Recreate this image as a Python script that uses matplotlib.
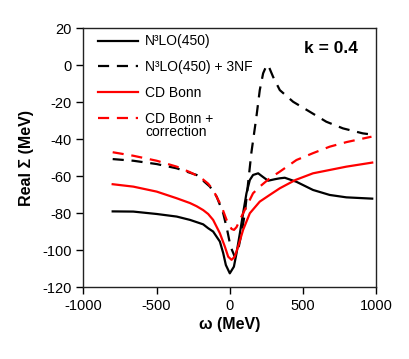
import numpy as np
import matplotlib.pyplot as plt

plt.rcParams['font.family'] = ['Liberation Sans', 'DejaVu Sans']
plt.rcParams['axes.unicode_minus'] = False

# Data (omega in MeV, Real Sigma in MeV)
w_n3lo = [-800, -659, -499, -362, -271, -226, -181, -147, -113, -67, -44,
          -26, 1, 29, 47, 70, 92, 115, 138, 160, 195, 225, 263, 309, 343,
          377, 457, 570, 684, 798, 975]
s_n3lo = [-79.0, -79.1, -80.4, -81.8, -83.6, -84.8, -86.0, -88.1, -89.9,
          -95.3, -101.6, -108.0, -112.5, -108.9, -101.6, -90.8, -80.0, -69.2,
          -62.0, -59.3, -58.4, -60.2, -62.4, -61.6, -61.1, -60.8, -63.0,
          -67.4, -70.1, -71.4, -72.1]

w_3nf = [-800, -659, -499, -362, -226, -135, -89, -44, -17, 6, 35, 58, 81,
         104, 126, 149, 165, 183, 206, 229, 250, 263, 297, 343, 434, 548,
         661, 775, 911, 970]
s_3nf = [-50.7, -51.6, -53.4, -55.7, -59.3, -65.6, -71.0, -80.0, -89.0,
         -98.0, -103.5, -99.8, -90.8, -80.0, -63.8, -47.0, -38.0, -27.8,
         -13.4, -4.3, -0.5, 0.2, -6.2, -13.4, -19.7, -25.1, -30.5, -34.1,
         -36.8, -37.4]

w_cdb = [-800, -659, -499, -362, -271, -226, -181, -147, -113, -67, -33,
         -10, 13, 35, 58, 92, 138, 206, 274, 343, 450, 570, 798, 975]
s_cdb = [-64.3, -65.6, -68.3, -71.9, -74.5, -76.2, -78.3, -80.4, -83.6,
         -90.8, -98.0, -103.5, -105.2, -103.5, -98.0, -89.0, -80.0, -73.7,
         -70.1, -66.5, -62.0, -58.4, -54.8, -52.6]

w_cdbc = [-800, -659, -499, -362, -271, -226, -181, -147, -113, -55, -21,
          13, 30, 47, 81, 115, 160, 206, 274, 343, 457, 570, 684, 800, 970]
s_cdbc = [-47.0, -48.9, -51.6, -54.8, -57.8, -59.6, -61.8, -64.0, -67.4,
          -76.4, -83.6, -88.5, -89.0, -87.5, -81.8, -76.4, -69.2, -65.6,
          -61.1, -57.5, -51.2, -47.5, -44.0, -41.5, -38.6]

fig = plt.figure(figsize=(4.09, 3.59), dpi=100)
ax = fig.add_axes([0.204, 0.2, 0.715, 0.721])

dash = (0, (5, 3.5))
ax.plot(w_n3lo, s_n3lo, color='black', lw=1.6, label='N\u00b3LO(450)')
ax.plot(w_3nf, s_3nf, color='black', lw=1.6, ls=dash,
        label='N\u00b3LO(450) + 3NF')
ax.plot(w_cdb, s_cdb, color='red', lw=1.6, label='CD Bonn')
ax.plot(w_cdbc, s_cdbc, color='red', lw=1.6, ls=dash, label='CD Bonn +')

ax.set_xlim(-1000, 1000)
ax.set_ylim(-120, 20)
ax.set_xticks(np.arange(-1000, 1001, 500))
ax.set_yticks(np.arange(-120, 21, 20))
ax.tick_params(direction='out', length=5, width=1, labelsize=10.5)
for sp in ax.spines.values():
    sp.set_linewidth(1)
    sp.set_color('#222222')

ax.set_xlabel('\u03c9 (MeV)', fontsize=11.5, fontweight='bold', labelpad=3)
ax.set_ylabel('Real \u03a3 (MeV)', fontsize=11.5, fontweight='bold',
              labelpad=6)

ax.text(0.846, 0.924, 'k = 0.4', transform=ax.transAxes, ha='center',
        va='center', fontsize=12.5, fontweight='bold')

leg = ax.legend(loc='upper left', bbox_to_anchor=(0.031, 0.998),
                frameon=False, fontsize=10, handlelength=2.9,
                handletextpad=0.5, labelspacing=0.85, borderaxespad=0)

# second line of the last legend label, placed under "CD Bonn +"
fig.canvas.draw()
bb = leg.get_texts()[3].get_window_extent()
x0, y0 = fig.transFigure.inverted().transform((bb.x0, bb.y0))
fig.text(x0, y0 - 13 / 359, 'correction', fontsize=10, ha='left',
         va='bottom')

fig.savefig('out.png', dpi=100)
